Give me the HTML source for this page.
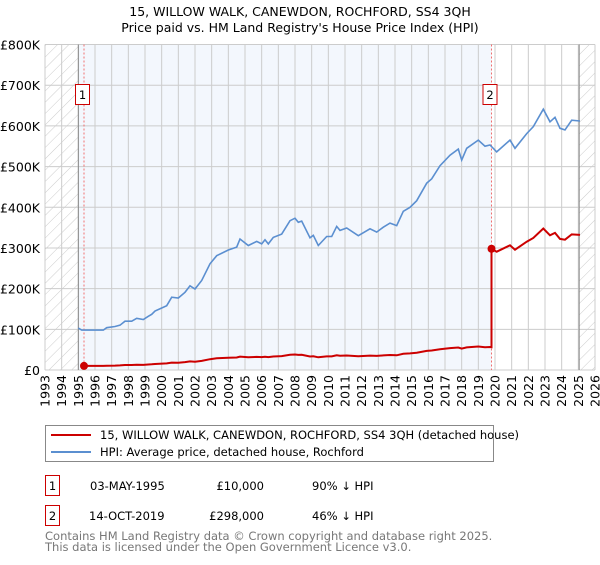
<!DOCTYPE html>
<html><head><meta charset="utf-8"><style>
body{margin:0;background:#fff;font-family:"Liberation Sans","DejaVu Sans",sans-serif}
svg text{font-family:"DejaVu Sans","Liberation Sans",sans-serif}
</style></head><body>
<svg id="c" width="600" height="560" viewBox="0 0 600 560" xmlns="http://www.w3.org/2000/svg">
<defs><pattern id="hatch" patternUnits="userSpaceOnUse" width="8" height="8" patternTransform="rotate(45)"><line x1="0" y1="0" x2="0" y2="8" stroke="#ccc" stroke-width="1"/></pattern></defs>
<text x="300" y="16" text-anchor="middle" font-size="12.5" fill="#000">15, WILLOW WALK, CANEWDON, ROCHFORD, SS4 3QH</text>
<text x="300" y="32" text-anchor="middle" font-size="12.5" fill="#000">Price paid vs. HM Land Registry's House Price Index (HPI)</text>
<g id="plot"></g>
<g>
<rect x="45.5" y="425.5" width="448" height="36" fill="#fff" stroke="#888"/>
<line x1="51" y1="435" x2="91" y2="435" stroke="#cc0000" stroke-width="2"/>
<text x="100" y="439" font-size="11.5">15, WILLOW WALK, CANEWDON, ROCHFORD, SS4 3QH (detached house)</text>
<line x1="51" y1="452" x2="91" y2="452" stroke="#5b8fd0" stroke-width="2"/>
<text x="100" y="456" font-size="11.5">HPI: Average price, detached house, Rochford</text>
</g>
<g>
<rect x="45.5" y="475.5" width="14" height="20" fill="#fff" stroke="#cc0000"/>
<text x="52.5" y="490" text-anchor="middle" font-size="11.5">1</text>
<text x="90" y="490" font-size="11.5">03-MAY-1995</text>
<text x="264" y="490" text-anchor="end" font-size="11.5">£10,000</text>
<text x="312" y="490" font-size="11.5">90% ↓ HPI</text>
<rect x="45.5" y="505.5" width="14" height="20" fill="#fff" stroke="#cc0000"/>
<text x="52.5" y="520" text-anchor="middle" font-size="11.5">2</text>
<text x="89" y="520" font-size="11.5">14-OCT-2019</text>
<text x="264" y="520" text-anchor="end" font-size="11.5">£298,000</text>
<text x="312" y="520" font-size="11.5">46% ↓ HPI</text>
</g>
<text x="45" y="540" font-size="11.5" fill="#777">Contains HM Land Registry data © Crown copyright and database right 2025.</text>
<text x="45" y="551" font-size="11.5" fill="#777">This data is licensed under the Open Government Licence v3.0.</text>
</svg>
<script>
const hpiYears=[1995.0,1995.2,1996.0,1996.5,1996.7,1997.2,1997.5,1997.8,1998.2,1998.5,1998.9,1999.2,1999.4,1999.6,2000.3,2000.6,2001.0,2001.4,2001.7,2002.0,2002.4,2002.9,2003.3,2004.0,2004.5,2004.7,2005.2,2005.7,2006.0,2006.2,2006.4,2006.7,2007.2,2007.7,2008.0,2008.2,2008.4,2008.9,2009.1,2009.4,2009.9,2010.2,2010.5,2010.7,2011.1,2011.8,2012.5,2012.9,2013.3,2013.7,2014.1,2014.5,2014.9,2015.3,2015.9,2016.2,2016.7,2017.3,2017.8,2018.0,2018.3,2019.0,2019.4,2019.7,2020.1,2020.9,2021.2,2021.9,2022.3,2022.9,2023.3,2023.6,2023.9,2024.2,2024.6,2025.1];
const hpiValues=[103,98,98,98,104,107,110,120,120,127,124,132,137,145,158,179,177,191,207,199,220,261,281,295,302,322,306,316,310,320,310,326,334,367,373,363,366,325,331,306,328,328,353,343,349,330,347,339,351,361,355,390,400,416,459,470,502,528,543,516,545,565,550,553,536,565,545,581,598,641,610,621,594,590,614,612];
const saleYears=[1995.34,2019.79];
const salePrices=[10,298];
const saleLabels=["1","2"];
const yTicks=[0,100,200,300,400,500,600,700,800];
const yTickLabels=["£0","£100K","£200K","£300K","£400K","£500K","£600K","£700K","£800K"];
const xTicks=[1993,1994,1995,1996,1997,1998,1999,2000,2001,2002,2003,2004,2005,2006,2007,2008,2009,2010,2011,2012,2013,2014,2015,2016,2017,2018,2019,2020,2021,2022,2023,2024,2025,2026];

const X0=45,X1=595,Y0=370,Y1=44.5;
const xs=y=>X0+(y-1993)/(2026-1993)*(X1-X0);
const ys=v=>Y0-v/800*(Y0-Y1);
const NS='http://www.w3.org/2000/svg';
const g=document.getElementById('plot');
function mk(t,a,p){const e=document.createElementNS(NS,t);for(const k in a)e.setAttribute(k,a[k]);(p||g).appendChild(e);return e;}
function hpiAt(t){for(let i=0;i<hpiYears.length-1;i++){if(t<=hpiYears[i+1]){const f=(t-hpiYears[i])/(hpiYears[i+1]-hpiYears[i]);return hpiValues[i]+f*(hpiValues[i+1]-hpiValues[i]);}}return hpiValues[hpiValues.length-1];}

let r=mk('rect',{x:X0,y:Y1,width:X1-X0,height:Y0-Y1,fill:'#fff'});

r=mk('rect',{x:xs(1995),y:Y1,width:xs(saleYears[1])-xs(1995),height:Y0-Y1,fill:'#f3f7fd'});

r=mk('rect',{x:X0,y:Y1,width:xs(1995)-X0,height:Y0-Y1,fill:'url(#hatch)'});

r=mk('rect',{x:xs(2025.05),y:Y1,width:X1-xs(2025.05),height:Y0-Y1,fill:'url(#hatch)'});


yTicks.forEach((v,i)=>{
 const l=mk('line',{x1:X0,x2:X1,y1:ys(v),y2:ys(v),stroke:'#ccc','stroke-width':1});
 
 const t=mk('text',{x:40,y:ys(v)+5,'text-anchor':'end','font-size':12.5});
 
 t.textContent=yTickLabels[i];
});
xTicks.forEach(y=>{
 const l=mk('line',{x1:xs(y),x2:xs(y),y1:Y1,y2:Y0,stroke:'#ccc','stroke-width':1});
 
 const t=mk('text',{x:0,y:0,'text-anchor':'end','font-size':12.5,transform:`translate(${xs(y)+4.5},375) rotate(-90)`});
 
 t.textContent=y;
});
[1995,2025.05].forEach(y=>{
 const l=mk('line',{x1:xs(y),x2:xs(y),y1:Y1,y2:Y0,stroke:'#888','stroke-width':1});
 
});

saleYears.forEach((y,i)=>{
 const l=mk('line',{x1:xs(y),x2:xs(y),y1:Y1,y2:Y0,stroke:'#f07070','stroke-width':1,'stroke-dasharray':'2,2'});
 
});

const hp=hpiYears.map((y,i)=>`${xs(y).toFixed(1)},${ys(hpiValues[i]).toFixed(1)}`).join(' ');
const hl=mk('polyline',{points:hp,fill:'none',stroke:'#5b8fd0','stroke-width':1.6});


// price paid series indexed to HPI from each sale
const pts=[];
const r1=salePrices[0]/hpiAt(saleYears[0]),r2=salePrices[1]/hpiAt(saleYears[1]);
pts.push([saleYears[0],salePrices[0]]);
hpiYears.forEach((y,i)=>{if(y>saleYears[0]&&y<saleYears[1])pts.push([y,hpiValues[i]*r1]);});
pts.push([saleYears[1],hpiAt(saleYears[1])*r1]);
pts.push([saleYears[1],salePrices[1]]);
hpiYears.forEach((y,i)=>{if(y>saleYears[1])pts.push([y,hpiValues[i]*r2]);});
const pl=mk('polyline',{points:pts.map(p=>`${xs(p[0]).toFixed(1)},${ys(p[1]).toFixed(1)}`).join(' '),fill:'none',stroke:'#cc0000','stroke-width':2});


saleYears.forEach((y,i)=>{
 const c=mk('circle',{cx:xs(y),cy:ys(salePrices[i]),r:4,fill:'#cc0000'});
 
 const b=mk('rect',{x:xs(y)-8.5,y:84.5,width:14,height:20,fill:'#fff',stroke:'#cc0000'});
 
 const t=mk('text',{x:xs(y)-1.5,y:99,'text-anchor':'middle','font-size':11.5});
 
 t.textContent=saleLabels[i];
});
</script>
</body></html>
